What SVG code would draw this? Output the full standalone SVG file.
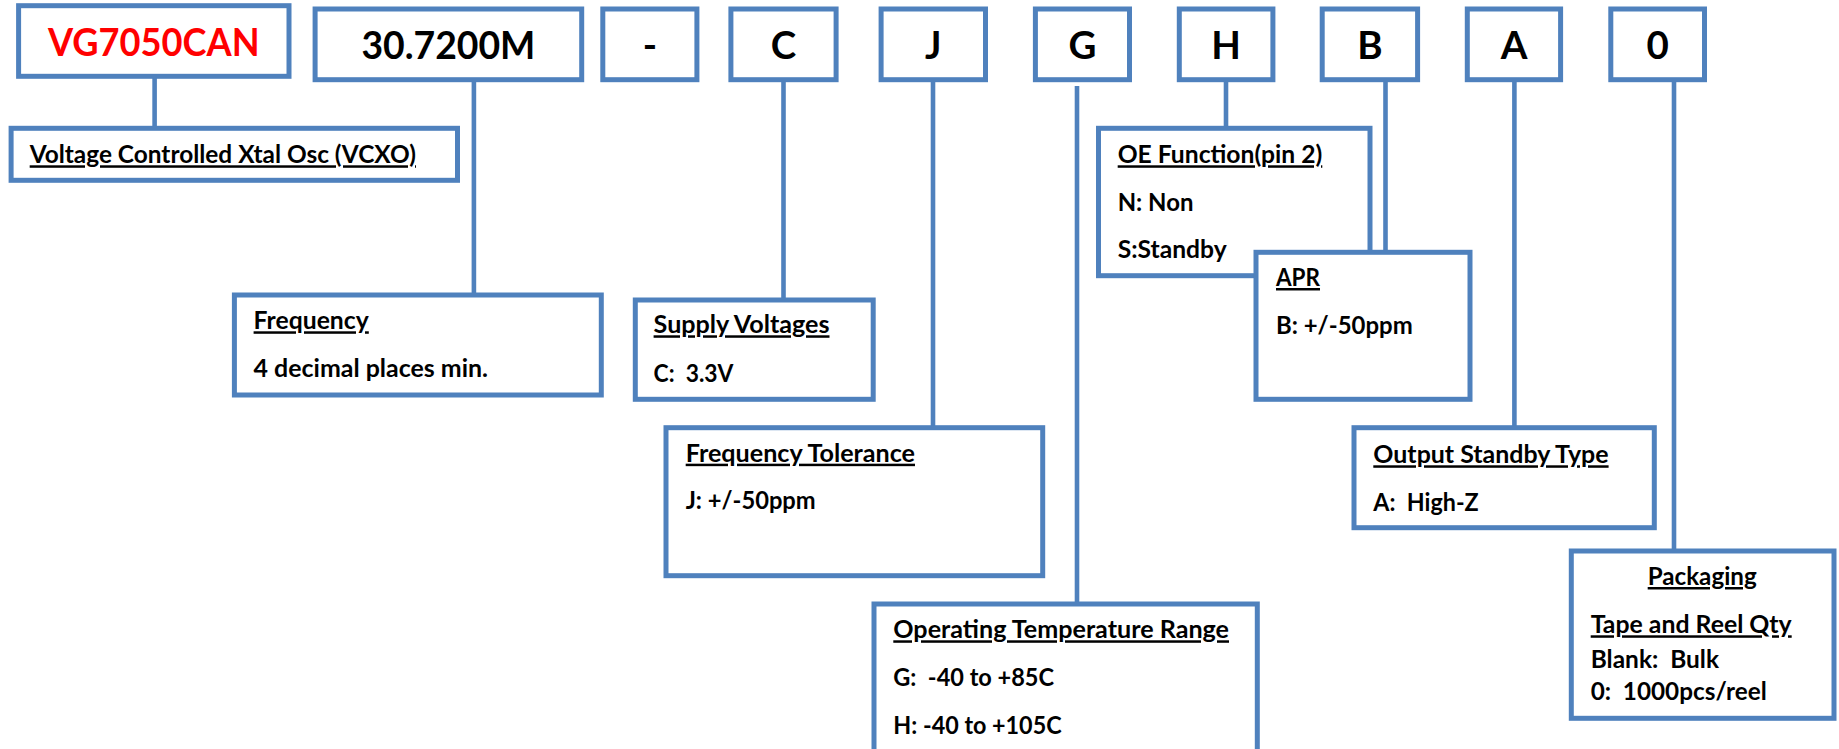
<svg xmlns="http://www.w3.org/2000/svg" width="1839" height="749" viewBox="0 0 1839 749">
<style>
.box{fill:#fff;stroke:#4F81BD;stroke-width:5}
.con line{stroke:#4F81BD;stroke-width:4.6}
text{font-family:Lato,"Liberation Sans",sans-serif;font-weight:bold;fill:#000}
.big{font-size:38.5px;text-anchor:middle}
.sm{font-size:24.8px;white-space:pre}
.u{text-decoration:underline}
.red{fill:#FF0000}
</style>
<rect width="1839" height="749" fill="#fff"/>
<g id="connectors" class="con">
<line x1="154.6" y1="76" x2="154.6" y2="129"/>
<line x1="473.9" y1="79" x2="473.9" y2="296"/>
<line x1="783.5" y1="79" x2="783.5" y2="301"/>
<line x1="933" y1="79" x2="933" y2="428"/>
<line x1="1077" y1="86" x2="1077" y2="605"/>
<line x1="1226" y1="79" x2="1226" y2="129"/>
<line x1="1385.5" y1="79" x2="1385.5" y2="253"/>
<line x1="1514.4" y1="79" x2="1514.4" y2="428"/>
<line x1="1674" y1="79" x2="1674" y2="552"/>
</g>
<g id="n-model"><rect class="box" x="18.6" y="5.7" width="270.4" height="70.6"/><text class="big red" x="153.8" y="55.5" textLength="211.6" lengthAdjust="spacingAndGlyphs">VG7050CAN</text></g>
<g id="n-freqcode"><rect class="box" x="315.1" y="9" width="266.6" height="70.7"/><text class="big" x="448.4" y="59" textLength="174" lengthAdjust="spacingAndGlyphs">30.7200M</text></g>
<g id="n-dash"><rect class="box" x="602.8" y="9" width="94.1" height="70.7"/><text class="big" x="649.9" y="59">-</text></g>
<g id="n-c"><rect class="box" x="730.9" y="9" width="105.2" height="70.7"/><text class="big" x="783.5" y="59">C</text></g>
<g id="n-j"><rect class="box" x="881.1" y="9" width="104.4" height="70.7"/><text class="big" x="933.3" y="59">J</text></g>
<g id="n-g"><rect class="box" x="1035.4" y="9" width="94.1" height="70.7"/><text class="big" x="1082.5" y="59">G</text></g>
<g id="n-h"><rect class="box" x="1179.3" y="9" width="93.6" height="70.7"/><text class="big" x="1226.1" y="59">H</text></g>
<g id="n-b"><rect class="box" x="1322.2" y="9" width="95.4" height="70.7"/><text class="big" x="1369.9" y="59">B</text></g>
<g id="n-a"><rect class="box" x="1467.3" y="9" width="93.3" height="70.7"/><text class="big" x="1514" y="59">A</text></g>
<g id="n-0"><rect class="box" x="1610.8" y="9" width="93.7" height="70.7"/><text class="big" x="1657.7" y="59">0</text></g>

<g id="n-vcxo"><rect class="box" x="11.1" y="128.3" width="446.4" height="52"/><text class="sm u" x="29.7" y="163.3" textLength="386.3" lengthAdjust="spacingAndGlyphs">Voltage Controlled Xtal Osc (VCXO)</text></g>
<g id="n-frequency"><rect class="box" x="234.4" y="295" width="366.9" height="100"/><text class="sm u" x="253.6" y="329.3" textLength="115.2" lengthAdjust="spacingAndGlyphs">Frequency</text><text class="sm" x="253.6" y="376.7" textLength="234.4" lengthAdjust="spacingAndGlyphs">4 decimal places min.</text></g>
<g id="n-supply"><rect class="box" x="635.3" y="300" width="237.9" height="99.3"/><text class="sm u" x="653.6" y="333.3" textLength="175.9" lengthAdjust="spacingAndGlyphs">Supply Voltages</text><text class="sm" x="653.6" y="381.7" xml:space="preserve" textLength="79.9" lengthAdjust="spacingAndGlyphs">C:  3.3V</text></g>
<g id="n-tolerance"><rect class="box" x="666" y="427.7" width="376.7" height="148"/><text class="sm u" x="685.7" y="461.7" textLength="229.3" lengthAdjust="spacingAndGlyphs">Frequency Tolerance</text><text class="sm" x="685.7" y="509.3" textLength="130" lengthAdjust="spacingAndGlyphs">J: +/-50ppm</text></g>
<g id="n-temp"><rect class="box" x="874" y="604" width="383.3" height="170"/><text class="sm u" x="893.3" y="638.3" textLength="335.7" lengthAdjust="spacingAndGlyphs">Operating Temperature Range</text><text class="sm" x="893.3" y="686" xml:space="preserve" textLength="160.7" lengthAdjust="spacingAndGlyphs">G:  -40 to +85C</text><text class="sm" x="893.3" y="734" textLength="168.3" lengthAdjust="spacingAndGlyphs">H: -40 to +105C</text></g>
<g id="n-oe"><rect class="box" x="1098.5" y="128.3" width="271.5" height="147.4"/><text class="sm u" x="1117.7" y="163.3" textLength="204.6" lengthAdjust="spacingAndGlyphs">OE Function(pin 2)</text><text class="sm" x="1117.7" y="211" textLength="75.7" lengthAdjust="spacingAndGlyphs">N: Non</text><text class="sm" x="1117.7" y="258.3" textLength="109" lengthAdjust="spacingAndGlyphs">S:Standby</text></g>
<g id="n-apr"><rect class="box" x="1256" y="252.3" width="214" height="147"/><text class="sm u" x="1276" y="286" textLength="44" lengthAdjust="spacingAndGlyphs">APR</text><text class="sm" x="1276" y="334" textLength="136.7" lengthAdjust="spacingAndGlyphs">B: +/-50ppm</text></g>
<g id="n-outstandby"><rect class="box" x="1354" y="427.7" width="300.3" height="100"/><text class="sm u" x="1373.3" y="463.3" textLength="235.3" lengthAdjust="spacingAndGlyphs">Output Standby Type</text><text class="sm" x="1373.3" y="510.7" xml:space="preserve" textLength="105.3" lengthAdjust="spacingAndGlyphs">A:  High-Z</text></g>
<g id="n-packaging"><rect class="box" x="1571.3" y="551" width="262.7" height="167.3"/><text class="sm u" x="1702.2" y="585" text-anchor="middle" textLength="109" lengthAdjust="spacingAndGlyphs">Packaging</text><text class="sm u" x="1590.7" y="633.3" textLength="201" lengthAdjust="spacingAndGlyphs">Tape and Reel Qty</text><text class="sm" x="1590.7" y="668.3" xml:space="preserve" textLength="128.3" lengthAdjust="spacingAndGlyphs">Blank:  Bulk</text><text class="sm" x="1590.7" y="700" xml:space="preserve" textLength="176" lengthAdjust="spacingAndGlyphs">0:  1000pcs/reel</text></g>
</svg>
